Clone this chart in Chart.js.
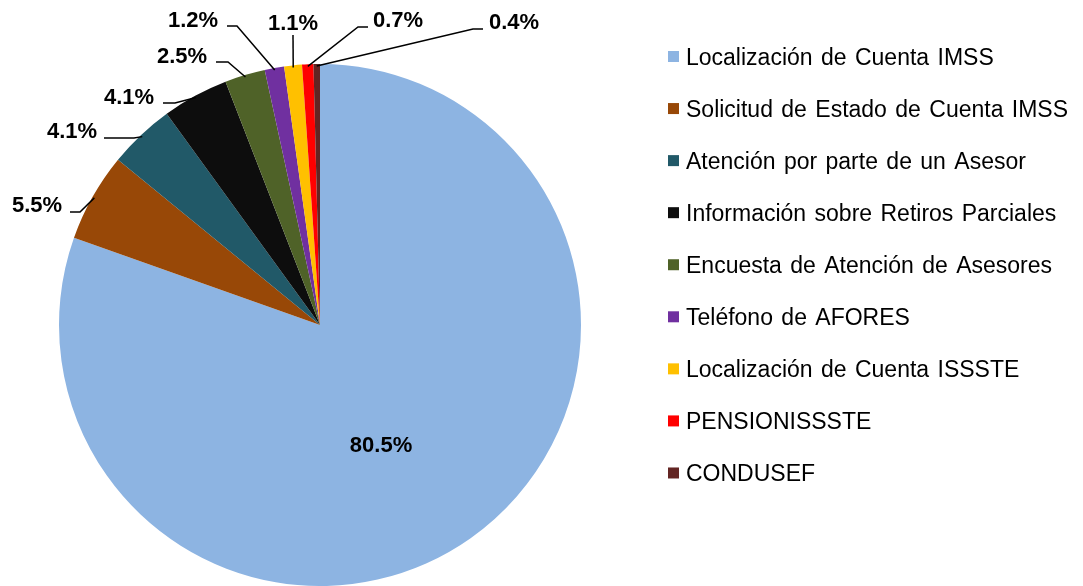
<!DOCTYPE html>
<html>
<head>
<meta charset="utf-8">
<title>Distribución de llamadas</title>
<script src="https://cdn.jsdelivr.net/npm/chart.js@4.4.1/dist/chart.umd.min.js"></script>
<style>
    body { margin: 0; background: #fff; }
    #callsPie { display: block; }
</style>
</head>
<body>
<canvas id="callsPie" width="1083" height="586"></canvas>
<script>
const categories = [
    "Localización de Cuenta IMSS",
    "Solicitud de Estado de Cuenta IMSS",
    "Atención por parte de un Asesor",
    "Información sobre Retiros Parciales",
    "Encuesta de Atención de Asesores",
    "Teléfono de AFORES",
    "Localización de Cuenta ISSSTE",
    "PENSIONISSSTE",
    "CONDUSEF"
];
const percents = [80.5, 5.5, 4.1, 4.1, 2.5, 1.2, 1.1, 0.7, 0.4];
const sliceColors = ["#8DB4E2", "#984807", "#215968", "#0D0D0D", "#4F6228", "#7030A0", "#FFC000", "#FF0000", "#632523"];

// where each percent label sits: [text x, baseline y, line start x, line start y, elbow x, elbow y]
// first one is inside the slice (text centered, no leader line)
const labelSpots = [
    [381, 452],
    [12, 212, 70, 212, 80, 212],
    [47, 138, 104, 138, 134, 138],
    [104, 104, 163, 103, 175, 103],
    [157, 63, 216, 62, 228, 62],
    [168, 27, 227, 26, 237, 26],
    [268, 30, 293, 35, 293, 35],
    [373, 27, 368, 27, 358, 27],
    [489, 29, 483, 29, 473, 29]
];

const labelFont = 'bold 22px "Liberation Sans", Arial, sans-serif';
const legendFont = '23px "Liberation Sans", Arial, sans-serif';

// percent labels + leader lines
const pieLabels = {
    id: 'pieLabels',
    afterDatasetsDraw(chart) {
        const ctx = chart.ctx;
        const arcs = chart.getDatasetMeta(0).data;
        ctx.save();
        ctx.font = labelFont;
        ctx.fillStyle = '#000';
        ctx.strokeStyle = '#000';
        ctx.lineWidth = 1.5;
        ctx.textBaseline = 'alphabetic';

        arcs.forEach((arc, i) => {
            const spot = labelSpots[i];
            const text = percents[i].toFixed(1) + '%';
            if (spot.length == 2) {
                ctx.textAlign = 'center';
                ctx.fillText(text, spot[0], spot[1]);
                return;
            }
            const p = arc.getProps(['x', 'y', 'startAngle', 'endAngle', 'outerRadius'], true);
            const mid = (p.startAngle + p.endAngle) / 2;
            const ex = p.x + Math.cos(mid) * (p.outerRadius - 2);
            const ey = p.y + Math.sin(mid) * (p.outerRadius - 2);

            ctx.beginPath();
            ctx.moveTo(spot[2], spot[3]);
            ctx.lineTo(spot[4], spot[5]);
            ctx.lineTo(ex, ey);
            ctx.stroke();

            ctx.textAlign = 'left';
            ctx.fillText(text, spot[0], spot[1]);
        });
        ctx.restore();
    }
};

// legend on the right, drawn by hand so rows line up with the original
const sideLegend = {
    id: 'sideLegend',
    afterDraw(chart) {
        const ctx = chart.ctx;
        const rowGap = 52.06;
        ctx.save();
        ctx.font = legendFont;
        ctx.wordSpacing = '2px';
        ctx.textAlign = 'left';
        ctx.textBaseline = 'alphabetic';
        chart.data.labels.forEach((label, i) => {
            const y = 51 + rowGap * i;
            ctx.fillStyle = sliceColors[i];
            ctx.fillRect(668, y, 11, 11);
            ctx.fillStyle = '#000';
            ctx.fillText(label, 686, 65 + rowGap * i);
        });
        ctx.restore();
    }
};

let callsPie = new Chart(document.getElementById('callsPie'), {
    type: 'pie',
    data: {
        labels: categories,
        datasets: [{
            data: percents,
            backgroundColor: sliceColors,
            borderWidth: 0,
            hoverOffset: 0
        }]
    },
    options: {
        responsive: false,
        animation: false,
        layout: {
            padding: { left: 59, top: 64, right: 502, bottom: 0 }
        },
        plugins: {
            legend: { display: false },
            tooltip: { enabled: false }
        }
    },
    plugins: [pieLabels, sideLegend]
});
</script>
</body>
</html>
